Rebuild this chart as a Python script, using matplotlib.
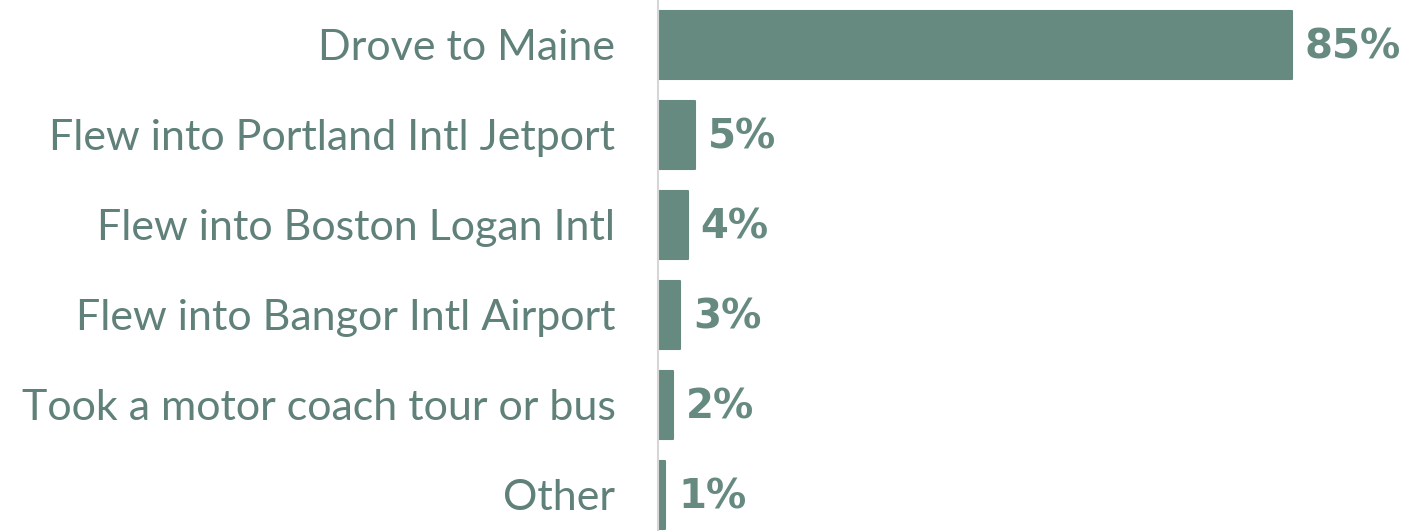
import matplotlib.pyplot as plt

categories = ["Drove to Maine", "Flew into Portland Intl Jetport", "Flew into Boston Logan Intl",
              "Flew into Bangor Intl Airport", "Took a motor coach tour or bus", "Other"]
values = [85, 5, 4, 3, 2, 1]

bar_color = "#678a80"
text_color = "#60807a"

fig = plt.figure(figsize=(14.21, 5.31), dpi=100)
ax = fig.add_axes([658 / 1421, 0, 1 - 658 / 1421, 1])

y = list(range(len(categories)))
ax.barh(y, values, height=0.756, color=bar_color, edgecolor=bar_color,
        linewidth=1.5, joinstyle="round")

ax.set_xlim(0, 763 / 7.46)
ax.set_ylim(-0.5 + 531 / 90, -0.5)

for i, (cat, v) in enumerate(zip(categories, values)):
    ax.text(-5.7, i + 0.03, cat, ha="right", va="center", fontsize=31,
            fontfamily="Lato", fontweight="normal", color=text_color)
    ax.text(v + 1.7, i + 0.03, f"{v}%", ha="left", va="center", fontsize=29,
            fontfamily="DejaVu Sans", fontweight="bold", color=bar_color)

for s in ["top", "right", "bottom"]:
    ax.spines[s].set_visible(False)
ax.spines["left"].set_color("#d6d6d6")
ax.spines["left"].set_linewidth(1.5)
ax.set_xticks([])
ax.set_yticks([])

fig.savefig("out.png", dpi=100)
